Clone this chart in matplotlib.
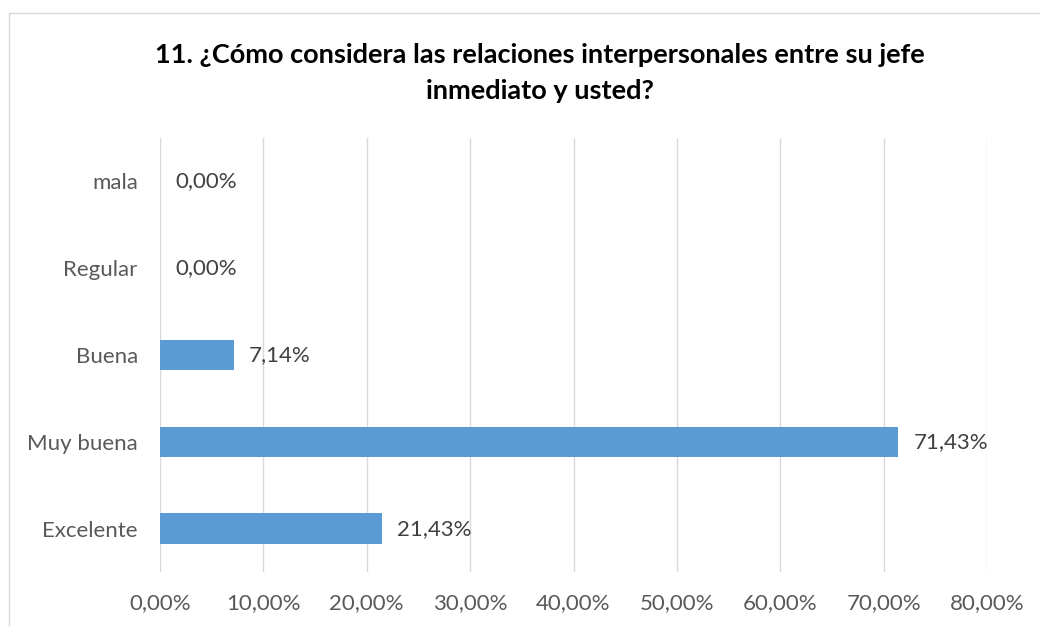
import matplotlib
matplotlib.use("Agg")
import matplotlib.pyplot as plt
from matplotlib.patches import Rectangle

categories = ["Excelente", "Muy buena", "Buena", "Regular", "mala"]
values = [21.43, 71.43, 7.14, 0.00, 0.00]
xticks = [0, 10, 20, 30, 40, 50, 60, 70, 80]
title = "11. ¿Cómo considera las relaciones interpersonales entre su jefe\ninmediato y usted?"

def fmt(v):
    return f"{v:.2f}".replace(".", ",") + "%"

plt.rcParams['font.family'] = ['Lato', 'DejaVu Sans']

fig = plt.figure(figsize=(10.4, 6.26), dpi=100)
fig.patches.append(Rectangle((9/1040, -0.1), 1.2, 1 - 13/626 + 0.1, transform=fig.transFigure,
                             fill=False, edgecolor="#D9D9D9", linewidth=1.0))
ax = fig.add_axes([160/1040, (626-572)/626, (987-160)/1040, (572-138)/626])

ypos = list(range(len(categories)))
ax.barh(ypos, values, height=0.35, color="#5B9BD5", zorder=3)
for y, v in zip(ypos, values):
    ax.annotate(fmt(v), (v, y), xytext=(15, 0), textcoords="offset pixels",
                va="center", ha="left", fontsize=16, color="#404040", zorder=4)

ax.set_xlim(0, 80)
ax.set_ylim(-0.5, len(categories) - 0.5)
ax.set_xticks(xticks)
ax.set_xticklabels([fmt(t) for t in xticks])
ax.set_yticks(ypos)
ax.set_yticklabels(categories)
ax.tick_params(axis="both", length=0, labelsize=16, labelcolor="#595959")
ax.tick_params(axis="y", pad=16)
ax.tick_params(axis="x", pad=15)
ax.grid(axis="x", color="#D9D9D9", linewidth=1.0, zorder=0)
for s in ax.spines.values():
    s.set_visible(False)

fig.text(540/1040, 1 - 73/626, title, ha="center", va="center", fontsize=19.5,
         fontweight="bold", color="#000000", linespacing=1.6)

fig.savefig("out.png", dpi=100)
